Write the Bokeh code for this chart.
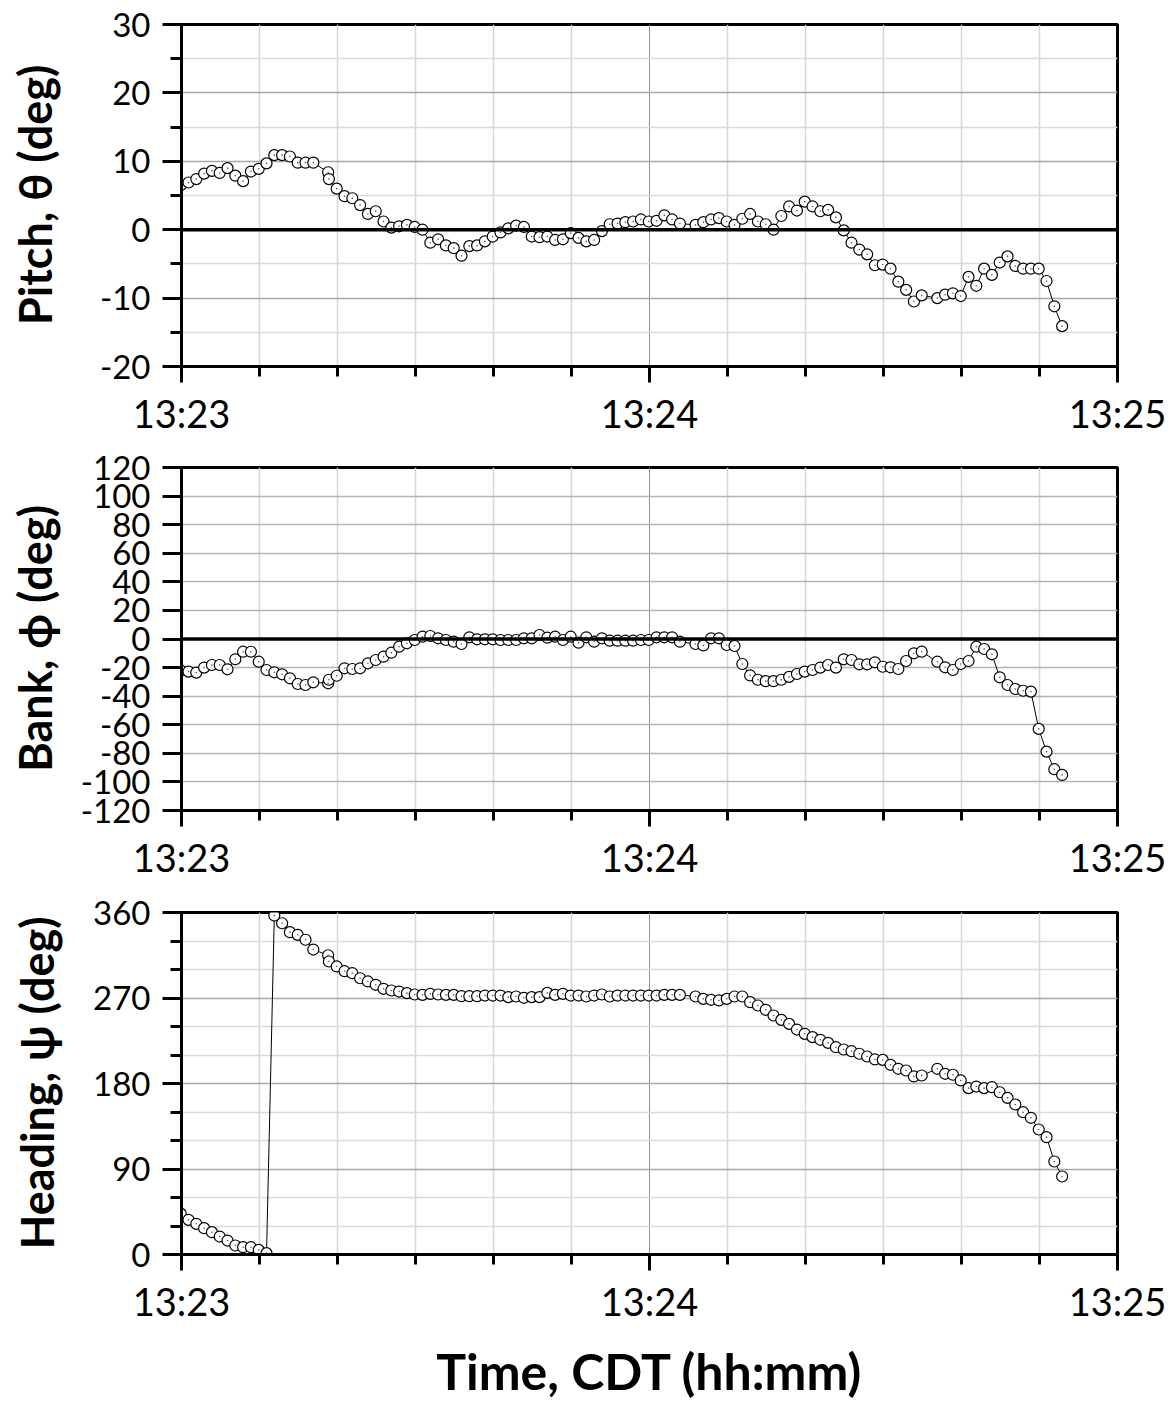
from bokeh.plotting import figure
from bokeh.models import Range1d, FixedTicker, Span, ColumnDataSource
from bokeh.layouts import column
from bokeh.embed import file_html
from bokeh.resources import INLINE

# seconds after 13:23:00
time_s = [-0.1, 0.9, 1.9, 2.9, 3.9, 4.9, 5.9, 6.9, 7.9, 8.9,
          9.9, 10.9, 11.9, 12.9, 13.9, 14.9, 15.9, 16.9, 18.8, 18.9,
          19.9, 20.9, 21.9, 22.9, 23.9, 24.9, 25.9, 26.9, 27.9, 28.9,
          29.9, 30.9, 31.9, 32.9, 33.9, 34.9, 35.9, 36.9, 37.9, 38.9,
          39.9, 40.9, 41.9, 42.9, 43.9, 44.9, 45.9, 46.9, 47.9, 48.9,
          49.9, 50.9, 51.9, 52.9, 53.9, 54.9, 55.9, 56.9, 57.9, 58.9,
          59.9, 60.9, 61.9, 62.9, 63.9,
          65.9, 66.9, 67.9, 68.9, 69.9,
          70.9, 71.9, 72.9, 73.9, 74.9, 75.9, 76.9, 77.9, 78.9, 79.9,
          80.9, 81.9, 82.9, 83.9, 84.9, 85.9, 86.9, 87.9, 88.9, 89.9,
          90.9, 91.9, 92.9, 93.9, 94.9,
          96.9, 97.9, 98.9, 99.9,
          100.9, 101.9, 102.9, 103.9, 104.9, 105.9, 106.9, 107.9, 108.9, 109.9,
          110.9, 111.9, 112.9]

pitch = [6.5,
         6.9, 7.4, 8.2, 8.6, 8.3, 9.0, 7.9, 7.1, 8.5, 8.9,
         9.7, 10.9, 10.9, 10.7, 9.8, 9.8, 9.8, 8.4, 7.4, 6.0,
         4.9, 4.6, 3.6, 2.3, 2.7, 1.2, 0.3, 0.5, 0.7, 0.4,
         0.0, -1.9, -1.4, -2.3, -2.7, -3.8, -2.4, -2.3, -1.7, -1.0,
         -0.4, 0.2, 0.6, 0.4, -1.0, -1.1, -1.0, -1.5, -1.4, -0.5,
         -1.2, -1.7, -1.5, -0.2, 0.8, 0.9, 1.1, 1.2, 1.5, 1.2,
         1.3, 2.1, 1.5, 0.9,
         0.7, 1.1, 1.5, 1.7, 1.2,
         0.7, 1.6, 2.3, 1.2, 0.8, 0.0, 2.0, 3.4, 2.8, 4.1,
         3.4, 2.7, 2.9, 1.8, -0.1, -1.9, -2.9, -3.6, -5.2, -5.1,
         -5.7, -7.6, -8.8, -10.5, -9.6,
         -10.0, -9.5, -9.3, -9.7,
         -6.9, -8.2, -5.7, -6.6, -4.8, -3.9, -5.3, -5.7, -5.7, -5.7,
         -7.5, -11.2, -14.1]

bank = [-22.0,
        -22.8, -23.5, -20.0, -18.2, -18.2, -21.2, -14.2, -8.9, -8.9, -15.9,
        -21.7, -23.3, -24.7, -27.5, -31.5, -32.2, -30.3, -31.0, -28.5, -25.7,
        -20.5, -21.0, -20.5, -17.0, -14.7, -12.4, -9.6, -5.4, -3.0, -0.7,
        1.6, 2.1, 0.5, -0.7, -1.9, -3.5, 1.2, -0.2, -0.2, -0.2,
        -0.7, -0.7, -0.7, 0.5, 0.5, 2.8, 0.9, 1.6, -0.7, 1.6,
        -2.6, 1.2, -1.9, 0.5, -1.2, -1.2, -1.2, -1.2, -0.7, -0.7,
        1.2, 1.2, 1.2, -1.9,
        -3.5, -4.5, 0.5, 0.5, -4.2,
        -4.9, -17.5, -25.5, -28.5, -29.5, -29.5, -28.5, -26.5, -24.5, -22.8,
        -21.7, -20.0, -18.2, -20.0, -14.2, -14.7, -17.7, -17.7, -16.3, -19.4,
        -19.8, -21.0, -15.4, -10.0, -8.9,
        -15.9, -19.8, -21.7, -17.5,
        -15.4, -5.4, -7.0, -10.7, -26.8, -32.2, -35.0, -36.2, -36.8, -62.9,
        -78.8, -91.1, -95.1]

heading = [43.0,
           36.5, 32.3, 27.7, 23.5, 18.9, 14.7, 9.5, 7.7, 7.7, 4.9,
           1.4, 356.8, 348.7, 339.3, 336.5, 331.3, 321.0, 315.0, 308.4, 303.2,
           298.2, 296.1, 290.8, 287.4, 283.9, 279.7, 277.9, 276.8, 275.1, 273.7,
           273.3, 274.4, 273.7, 273.3, 273.3, 271.9, 271.9, 271.9, 272.6, 272.6,
           272.6, 270.9, 271.6, 270.2, 270.9, 270.9, 275.4, 273.3, 274.4, 272.6,
           272.6, 271.6, 272.6, 273.7, 271.6, 272.6, 272.6, 272.6, 272.6, 272.6,
           272.6, 273.3, 273.3, 273.3,
           271.6, 269.1, 268.1, 267.4, 269.1,
           271.6, 271.6, 265.6, 262.1, 257.6, 251.6, 247.0, 242.8, 236.8, 232.3,
           228.8, 226.0, 222.8, 218.2, 215.8, 214.0, 211.3, 208.4, 205.3, 204.9,
           199.7, 195.5, 193.7, 187.4, 188.4,
           195.5, 190.2, 189.2, 183.2,
           175.1, 176.8, 175.1, 176.1, 170.8, 164.9, 157.9, 149.8, 143.9, 131.6,
           123.5, 97.9, 82.1]

x_major = [0, 60, 120]
x_minor = [10, 20, 30, 40, 50, 70, 80, 90, 100, 110]
x_labels = ["13:23", "13:24", "13:25"]

pitch_major = [-20, -10, 0, 10, 20, 30]
pitch_minor = [-15, -5, 5, 15, 25]
bank_major = [-120, -100, -80, -60, -40, -20, 0, 20, 40, 60, 80, 100, 120]
heading_major = [0, 90, 180, 270, 360]
heading_minor = [30, 60, 120, 150, 210, 240, 300, 330]

FONT = "Lato"


def make_panel(values, height, bottom, yrange, ymajor, yminor, ylabel,
               ylabel_standoff, major_grid, minor_grid, zero_line, xlabel=None):
    p = figure(width=1173, height=height, output_backend="svg",
               toolbar_location=None, x_range=Range1d(0, 120),
               y_range=Range1d(*yrange),
               min_border_left=181, min_border_right=56,
               min_border_top=24, min_border_bottom=bottom)
    p.background_fill_color = "white"
    p.border_fill_color = "white"
    p.outline_line_color = "black"
    p.outline_line_width = 3

    # x axis
    p.xaxis.ticker = FixedTicker(ticks=x_major, minor_ticks=x_minor)
    p.xaxis.major_label_overrides = {t: s for t, s in zip(x_major, x_labels)}
    p.xaxis.major_label_text_font = FONT
    p.xaxis.major_label_text_font_size = "38px"
    p.xaxis.major_label_text_color = "black"
    p.xaxis.major_label_standoff = 7
    p.xaxis.axis_line_width = 3
    p.xaxis.major_tick_line_width = 3
    p.xaxis.minor_tick_line_width = 3
    p.xaxis.major_tick_out = 16
    p.xaxis.major_tick_in = 0
    p.xaxis.minor_tick_out = 10
    p.xaxis.minor_tick_in = 0
    if xlabel:
        p.xaxis.axis_label = xlabel
        p.xaxis.axis_label_text_font = FONT
        p.xaxis.axis_label_text_font_style = "bold"
        p.xaxis.axis_label_text_font_size = "50px"
        p.xaxis.axis_label_text_color = "black"
        p.xaxis.axis_label_standoff = 14

    # y axis
    p.yaxis.ticker = FixedTicker(ticks=ymajor, minor_ticks=yminor)
    p.yaxis.major_label_overrides = {t: str(t) for t in ymajor}
    p.yaxis.major_label_text_font = FONT
    p.yaxis.major_label_text_font_size = "33px"
    p.yaxis.major_label_text_color = "black"
    p.yaxis.major_label_standoff = 12
    p.yaxis.axis_line_width = 3
    p.yaxis.major_tick_line_width = 3
    p.yaxis.minor_tick_line_width = 3
    p.yaxis.major_tick_out = 19
    p.yaxis.major_tick_in = 0
    p.yaxis.minor_tick_out = 11
    p.yaxis.minor_tick_in = 0
    p.yaxis.axis_label = ylabel
    p.yaxis.axis_label_text_font = FONT
    p.yaxis.axis_label_text_font_style = "bold"
    p.yaxis.axis_label_text_font_size = "45px"
    p.yaxis.axis_label_text_color = "black"
    p.yaxis.axis_label_standoff = ylabel_standoff

    # grids
    p.xgrid.grid_line_color = "#8f8f8f"
    p.xgrid.grid_line_width = 1
    p.xgrid.minor_grid_line_color = "#d6d6d6"
    p.xgrid.minor_grid_line_width = 1.5
    p.ygrid.grid_line_color = major_grid
    p.ygrid.grid_line_width = 1.5
    p.ygrid.minor_grid_line_color = minor_grid
    p.ygrid.minor_grid_line_width = 1.5

    if zero_line:
        p.add_layout(Span(location=0, dimension="width", line_color="black",
                          line_width=3.5))

    src = ColumnDataSource(dict(t=time_s, v=values))
    p.line("t", "v", source=src, line_color="black", line_width=1)
    p.scatter("t", "v", source=src, marker="circle", size=11,
              fill_color="white", line_color="black", line_width=1.2)
    p.scatter("t", "v", source=src, marker="circle", size=1.6,
              fill_color="#555555", line_color=None)
    return p


p1 = make_panel(pitch, 443, 77, (-20, 30), pitch_major, pitch_minor,
                "Pitch, θ (deg)", 35, "#a8a8a8", "#dadada", True)
p2 = make_panel(bank, 445, 78, (-120, 120), bank_major, [],
                "Bank, ϕ (deg)", 16, "#b4b4b4", None, True)
p3 = make_panel(heading, 516, 150, (0, 360), heading_major, heading_minor,
                "Heading, ψ (deg)", 26, "#a8a8a8", "#dadada", False,
                xlabel="Time, CDT (hh:mm)")

p = column(p1, p2, p3)
open("out.html", "w").write(file_html(p, INLINE))
